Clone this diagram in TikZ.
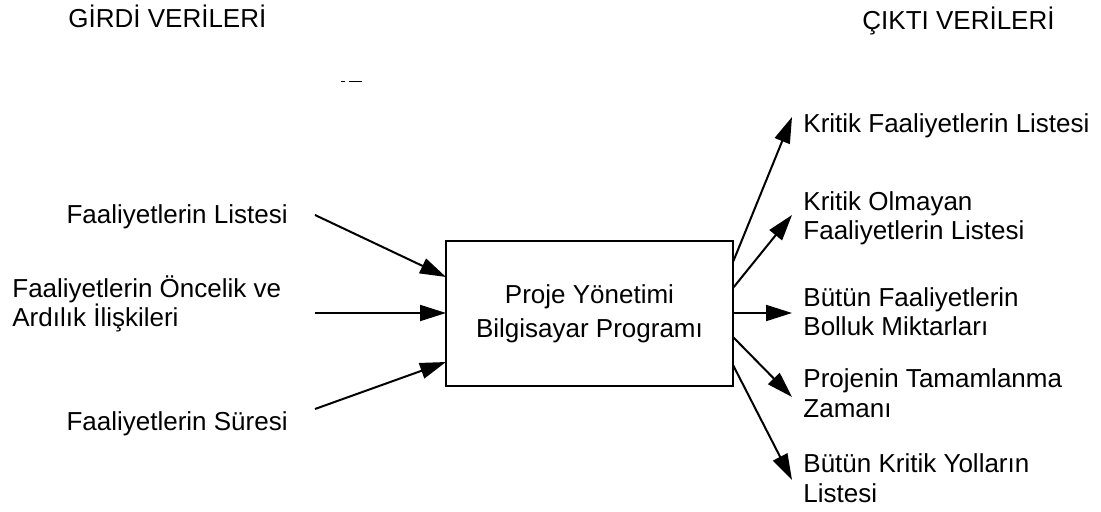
\documentclass[tikz,border=0pt]{standalone}
\usepackage{fontspec}
\setmainfont{Liberation Sans}
\usetikzlibrary{arrows.meta}
\begin{document}
\begin{tikzpicture}[x=0.5pt,y=-0.5pt,
  lbl/.style={inner sep=0pt,font=\fontsize{13pt}{14.5pt}\selectfont,align=left},
  boxtxt/.style={draw,line width=0.6pt,inner sep=0pt,minimum width=143.5pt,minimum height=72.5pt,
    font=\fontsize{13pt}{17pt}\selectfont,align=center},
  arr/.style={line width=1pt,-{Triangle[length=13pt,width=8pt]}},
  stray/.style={line width=0.5pt}]
\useasboundingbox (0,0) rectangle (1101,512);
% titles
\node[lbl,anchor=base west] (tin) at (68,28) {GİRDİ VERİLERİ};
\node[lbl,anchor=base west] (tout) at (862,30) {ÇIKTI VERİLERİ};
% stray marks
\draw[stray] (341,82) -- (345,82);
\draw[stray] (349,82) -- (362,82);
% central box
\node[boxtxt] (box) at (589.5,313.5) {Proje Yönetimi\\Bilgisayar Programı};
% inputs
\node[lbl,anchor=base east] (i1) at (288,224) {Faaliyetlerin Listesi};
\node[lbl,anchor=base west] (i2) at (12,327) {Faaliyetlerin Öncelik ve\\Ardılık İlişkileri};
\node[lbl,anchor=base east] (i3) at (288,430) {Faaliyetlerin Süresi};
% outputs
\node[lbl,anchor=base west] (o1) at (803,133) {Kritik Faaliyetlerin Listesi};
\node[lbl,anchor=base west] (o2) at (803,240) {Kritik Olmayan\\Faaliyetlerin Listesi};
\node[lbl,anchor=base west] (o3) at (803,336) {Bütün Faaliyetlerin\\Bolluk Miktarları};
\node[lbl,anchor=base west] (o4) at (803,417) {Projenin Tamamlanma\\Zamanı};
\node[lbl,anchor=base west] (o5) at (803,502) {Bütün Kritik Yolların\\Listesi};
% connector end points
\coordinate (s1) at (315,215);
\coordinate (s2) at (315,313);
\coordinate (s3) at (315,409);
\coordinate (b1) at (446,277);
\coordinate (b2) at (446,313);
\coordinate (b3) at (446,362);
\coordinate (r1) at (733,262);
\coordinate (r2) at (733,288);
\coordinate (r3) at (733,313);
\coordinate (r4) at (733,337);
\coordinate (r5) at (733,365);
\coordinate (e1) at (792,117);
\coordinate (e2) at (792,215);
\coordinate (e3) at (792,313);
\coordinate (e4) at (792,397);
\coordinate (e5) at (792,480);
\draw[arr] (s1) -- (b1);
\draw[arr] (s2) -- (b2);
\draw[arr] (s3) -- (b3);
\draw[arr] (r1) -- (e1);
\draw[arr] (r2) -- (e2);
\draw[arr] (r3) -- (e3);
\draw[arr] (r4) -- (e4);
\draw[arr] (r5) -- (e5);
\end{tikzpicture}
\end{document}
